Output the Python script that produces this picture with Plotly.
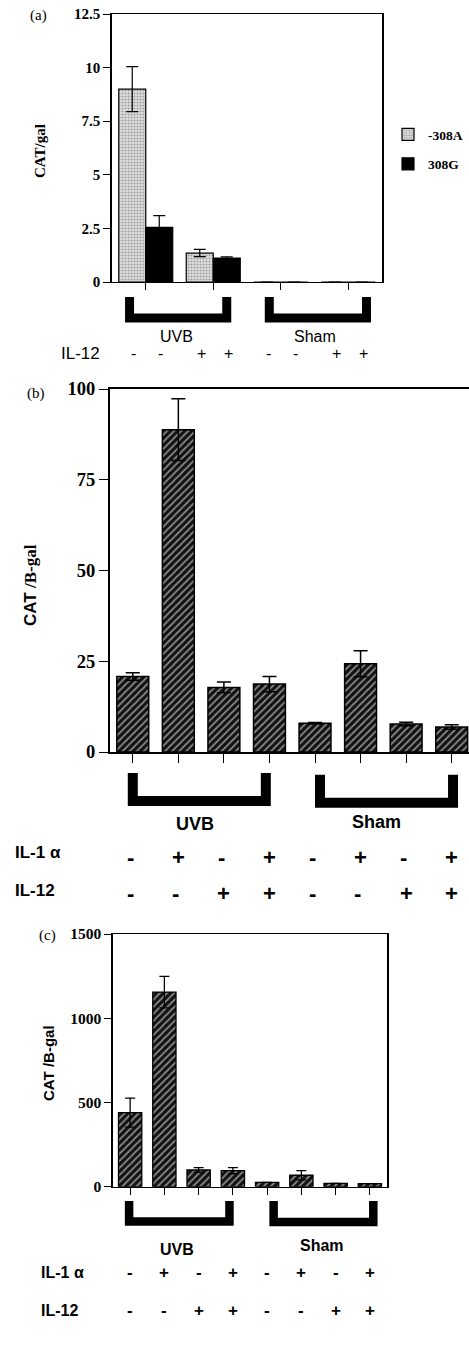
import plotly.graph_objects as go

W, H = 469, 1353

# ---------------- data ----------------
# Panel (a): groups UVB(-IL12), UVB(+IL12), Sham(-IL12), Sham(+IL12)
a_groups = [0, 1, 2, 3]
a_308A = [9.0, 1.35, 0.0, 0.0]
a_308A_err = [1.05, 0.17, 0.0, 0.0]
a_308G = [2.55, 1.12, 0.0, 0.0]
a_308G_err = [0.55, 0.05, 0.0, 0.0]
a_yticks = [0, 2.5, 5, 7.5, 10, 12.5]
a_yticklabels = ["0", "2.5", "5", "7.5", "10", "12.5"]
a_il12 = ["-", "-", "+", "+", "-", "-", "+", "+"]

# Panel (b)
b_x = [0, 1, 2, 3, 4, 5, 6, 7]
b_vals = [20.8, 88.8, 17.8, 18.7, 7.9, 24.3, 7.7, 6.9]
b_err = [1.0, 8.5, 1.5, 2.1, 0.2, 3.6, 0.5, 0.6]
b_yticks = [0, 25, 50, 75, 100]
b_il1 = ["-", "+", "-", "+", "-", "+", "-", "+"]
b_il12 = ["-", "-", "+", "+", "-", "-", "+", "+"]

# Panel (c)
c_x = [0, 1, 2, 3, 4, 5, 6, 7]
c_vals = [440, 1155, 99, 95, 26, 68, 20, 18]
c_err = [86, 93, 14, 18, 0, 27, 0, 0]
c_yticks = [0, 500, 1000, 1500]
c_il1 = ["-", "+", "-", "+", "-", "+", "-", "+"]
c_il12 = ["-", "-", "+", "+", "-", "-", "+", "+"]

SERIF = "Liberation Serif"
SANS = "Liberation Sans"


def px_x(p):
    return p / W


def px_y(p):
    return 1 - p / H


fig = go.Figure()

# ---------------- traces ----------------
fig.add_trace(go.Bar(
    x=a_groups, y=a_308A, name="-308A", legendgroup="g1",
    xaxis="x", yaxis="y",
    marker=dict(color="#dcdcdc", line=dict(color="black", width=1.2),
                pattern=dict(shape=".", fgcolor="#555", bgcolor="#e2e2e2",
                             size=3, solidity=0.4)),
    error_y=dict(type="data", array=a_308A_err, visible=True,
                 color="black", thickness=1.2, width=6),
))
fig.add_trace(go.Bar(
    x=a_groups, y=a_308G, name="308G", legendgroup="g2",
    xaxis="x", yaxis="y",
    marker=dict(color="black", line=dict(color="black", width=1.2)),
    error_y=dict(type="data", array=a_308G_err, visible=True,
                 color="black", thickness=1.2, width=6),
))

hatch = dict(shape="/", fgcolor="white", bgcolor="#111", size=5, solidity=0.35)

fig.add_trace(go.Bar(
    x=b_x, y=b_vals, width=0.7, showlegend=False,
    xaxis="x2", yaxis="y2",
    marker=dict(color="#111", line=dict(color="black", width=1.5), pattern=hatch),
    error_y=dict(type="data", array=b_err, visible=True,
                 color="black", thickness=1.5, width=7),
))
fig.add_trace(go.Bar(
    x=c_x, y=c_vals, width=0.68, showlegend=False,
    xaxis="x3", yaxis="y3",
    marker=dict(color="#111", line=dict(color="black", width=1.3), pattern=hatch),
    error_y=dict(type="data", array=c_err, visible=True,
                 color="black", thickness=1.3, width=5),
))

# ---------------- axes ----------------
common_x = dict(showgrid=False, zeroline=False, showticklabels=False,
                ticks="outside", tickcolor="black", showline=True,
                linecolor="black", fixedrange=True, automargin=False)
common_y = dict(showgrid=False, zeroline=False, ticks="outside",
                tickcolor="black", showline=True, linecolor="black",
                fixedrange=True, automargin=False)

fig.update_layout(
    xaxis=dict(common_x, domain=[px_x(112), px_x(382)], range=[-0.5, 3.5],
               tickvals=a_groups, ticklen=7, linewidth=1.3, mirror=True,
               anchor="y"),
    yaxis=dict(common_y, domain=[px_y(282), px_y(14)], range=[0, 12.5],
               tickvals=a_yticks, ticktext=a_yticklabels, ticklen=7,
               linewidth=1.6, mirror=True, anchor="x",
               tickfont=dict(family=SERIF, size=15, color="black", weight="bold")),
    xaxis2=dict(common_x, domain=[px_x(110), 1.0], range=[-0.5, 7.38],
                tickvals=b_x, ticklen=9, linewidth=2, mirror=True,
                anchor="y2"),
    yaxis2=dict(common_y, domain=[px_y(752), px_y(389)], range=[0, 100],
                tickvals=b_yticks, ticklen=9, linewidth=2, anchor="x2",
                tickfont=dict(family=SERIF, size=18.5, color="black", weight="bold")),
    xaxis3=dict(common_x, domain=[px_x(113), px_x(387)], range=[-0.5, 7.5],
                tickvals=c_x, ticklen=7, linewidth=1.3, mirror=True,
                anchor="y3"),
    yaxis3=dict(common_y, domain=[px_y(1186.7), px_y(934)], range=[0, 1500],
                tickvals=c_yticks, ticklen=7, linewidth=1.5, mirror=True,
                anchor="x3",
                tickfont=dict(family=SERIF, size=15.5, color="black", weight="bold")),
)

# ---------------- annotations ----------------
ann = []


def text(t, x, y, xref, yref, family, size, bold=False, angle=0, xanchor="center"):
    ann.append(dict(text=t, x=x, y=y, xref=xref, yref=yref, showarrow=False,
                    xanchor=xanchor, yanchor="middle", textangle=angle,
                    font=dict(family=family, size=size, color="black",
                              weight="bold" if bold else "normal")))


# panel letters
text("(a)", px_x(38), px_y(15), "paper", "paper", SERIF, 15)
text("(b)", px_x(36), px_y(393), "paper", "paper", SERIF, 15)
text("(c)", px_x(47), px_y(935), "paper", "paper", SERIF, 15)

# y titles
text("CAT/gal", px_x(40), px_y(151), "paper", "paper", SERIF, 15, bold=True, angle=-90)
text("CAT<span style='font-family:Liberation Serif'> /B-gal</span>",
     px_x(30), px_y(585), "paper", "paper", SANS, 17, bold=True, angle=-90)
text("CAT /B-gal", px_x(48), px_y(1063), "paper", "paper", SANS, 15,
     bold=True, angle=-90)

# panel (a) labels
text("UVB", 0.45, -0.205, "x", "y domain", SANS, 16)
text("Sham", 2.51, -0.205, "x", "y domain", SANS, 16)
text("IL-12", px_x(59), -0.265, "paper", "y domain", SANS, 17, xanchor="left")
a_sign_x = [g + o for g in a_groups for o in (-0.18, 0.22)]
for sx, s in zip(a_sign_x, a_il12):
    text(s, sx, -0.265, "x", "y domain", SANS, 16)

# panel (b) labels
text("UVB", 1.36, -0.198, "x2", "y2 domain", SANS, 18, bold=True)
text("Sham", 5.34, -0.193, "x2", "y2 domain", SANS, 18, bold=True)
text("IL-1 α", px_x(13), -0.278, "paper", "y2 domain", SANS, 17, bold=True, xanchor="left")
text("IL-12", px_x(13), -0.381, "paper", "y2 domain", SANS, 17, bold=True, xanchor="left")
for i, s in zip(b_x, b_il1):
    text(s, i - (0.06 if s == "-" else 0), -0.29, "x2", "y2 domain", SANS, 22, bold=True)
for i, s in zip(b_x, b_il12):
    text(s, i - (0.06 if s == "-" else 0), -0.39, "x2", "y2 domain", SANS, 22, bold=True)

# panel (c) labels
text("UVB", 1.38, -0.247, "x3", "y3 domain", SANS, 16, bold=True)
text("Sham", 5.6, -0.231, "x3", "y3 domain", SANS, 16, bold=True)
text("IL-1 α", px_x(39), -0.338, "paper", "y3 domain", SANS, 16, bold=True, xanchor="left")
text("IL-12", px_x(39), -0.488, "paper", "y3 domain", SANS, 16, bold=True, xanchor="left")
for i, s in zip(c_x, c_il1):
    text(s, i, -0.338, "x3", "y3 domain", SANS, 17, bold=True)
for i, s in zip(c_x, c_il12):
    text(s, i, -0.488, "x3", "y3 domain", SANS, 17, bold=True)

# ---------------- brackets ----------------
shapes = []


def bracket(x0, x1, top, bot, xref, yref, lw):
    shapes.append(dict(type="path", xref=xref, yref=yref,
                       path=f"M {x0},{top} L {x0},{bot} L {x1},{bot} L {x1},{top}",
                       line=dict(color="black", width=lw)))


bracket(-0.24, 1.2, -0.056, -0.134, "x", "y domain", 9)
bracket(1.83, 3.27, -0.056, -0.134, "x", "y domain", 9)
bracket(0.0, 2.92, -0.058, -0.135, "x2", "y2 domain", 10)
bracket(4.11, 7.03, -0.063, -0.14, "x2", "y2 domain", 10)
bracket(-0.03, 2.90, -0.057, -0.138, "x3", "y3 domain", 8.5)
bracket(4.19, 7.10, -0.057, -0.14, "x3", "y3 domain", 8.5)

fig.update_layout(
    width=W, height=H,
    margin=dict(l=0, r=0, t=0, b=0, autoexpand=False),
    paper_bgcolor="white", plot_bgcolor="white",
    barmode="group", bargap=0.2, bargroupgap=0,
    annotations=ann, shapes=shapes,
    showlegend=True,
    legend=dict(x=px_x(388), y=px_y(119), xanchor="left", yanchor="top",
                tracegroupgap=9, bgcolor="rgba(0,0,0,0)", itemwidth=30,
                font=dict(family=SERIF, size=13.5, color="black", weight="bold")),
)

fig.write_html(
    "out.html",
    config={"displayModeBar": False},
    post_script="document.body.style.margin='0';document.body.style.padding='0';"
                "document.documentElement.style.overflow='hidden';",
)
